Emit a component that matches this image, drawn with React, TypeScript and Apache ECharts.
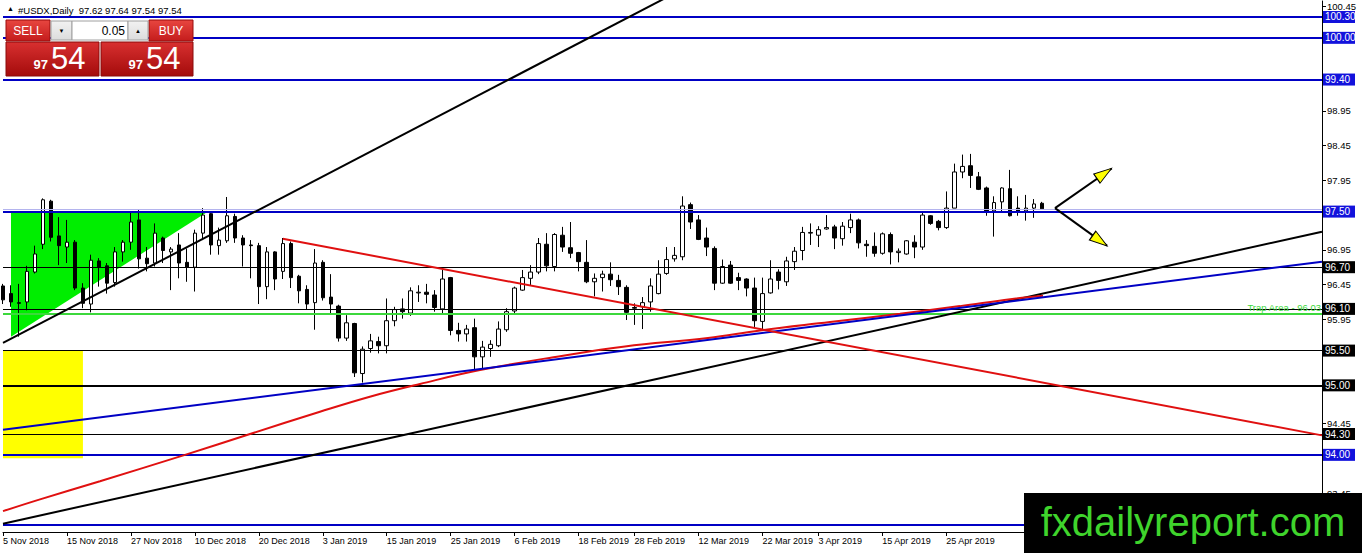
import React, { useEffect, useRef } from "react";
import * as echarts from "echarts";

// ---------- axis / categories ----------
const SLOT_COUNT = 166; // bar slots across the plot (incl. empty right shift)
const TICK_LABELS = [
  "5 Nov 2018", "15 Nov 2018", "27 Nov 2018", "10 Dec 2018", "20 Dec 2018",
  "3 Jan 2019", "15 Jan 2019", "25 Jan 2019", "6 Feb 2019", "18 Feb 2019",
  "28 Feb 2019", "12 Mar 2019", "22 Mar 2019", "3 Apr 2019", "15 Apr 2019", "25 Apr 2019",
];
const TICK_BARS = [0, 8, 16, 24, 32, 40, 48, 56, 64, 72, 79, 87, 95, 102, 110, 118];
const Y_TICKS = [93.45, 93.95, 94.45, 94.95, 95.45, 95.95, 96.45, 96.95, 97.45, 97.95, 98.45, 98.95, 99.45, 99.95, 100.45];
// tick labels that are not hidden behind a price box
const Y_LABELS = [93.45, 94.45, 95.95, 96.45, 96.95, 97.95, 98.45, 98.95, 100.45];
const Y_MIN = 92.89;
const Y_MAX = 100.53;

// ---------- daily candles ----------
const OPEN = [
  96.43, 96.32, 96.19, 96.20, 96.63, 97.03, 97.65, 97.15, 96.99, 97.06,
  96.40, 96.17, 96.79, 96.72, 96.48, 96.92, 97.06, 97.38, 96.83, 96.76,
  97.12, 96.92, 97.02, 96.77, 96.70, 97.19, 97.47, 97.01, 97.08, 97.43,
  97.12, 97.02, 97.01, 96.42, 96.92, 96.64, 97.04, 96.57, 96.38, 96.19,
  96.77, 96.27, 96.14, 95.68, 95.89, 95.17, 95.53, 95.63, 95.57, 95.93,
  96.10, 96.04, 96.33, 96.34, 96.30, 96.10, 96.55, 95.79, 95.74, 95.83,
  95.41, 95.53, 95.57, 95.80, 96.07, 96.37, 96.54, 96.63, 97.03, 96.71,
  97.16, 96.98, 96.91, 96.77, 96.49, 96.55, 96.60, 96.51, 96.41, 96.12,
  96.13, 96.20, 96.32, 96.61, 96.82, 96.85, 97.60, 97.38, 97.12, 96.97,
  96.47, 96.73, 96.55, 96.53, 96.40, 95.92, 96.33, 96.63, 96.49, 96.78,
  96.94, 97.19, 97.16, 97.25, 97.28, 97.11, 97.27, 97.38, 97.03, 97.00,
  96.90, 97.17, 96.91, 96.89, 97.06, 96.99, 97.44, 97.36, 97.27, 97.55,
  98.07, 98.16, 98.00, 97.84, 97.51, 97.64, 97.83, 97.55, 97.51, 97.55,
  97.62,
];
const HIGH = [
  96.46, 96.44, 96.46, 96.72, 97.01, 97.69, 97.67, 97.42, 97.38, 97.09,
  96.47, 96.88, 96.83, 96.76, 96.99, 97.09, 97.50, 97.53, 96.99, 97.33,
  97.14, 96.99, 97.19, 96.97, 97.24, 97.55, 97.50, 97.27, 97.71, 97.47,
  97.16, 97.09, 97.05, 96.99, 96.93, 97.12, 97.07, 96.59, 96.44, 96.96,
  96.80, 96.60, 96.16, 96.01, 95.90, 95.56, 95.74, 95.70, 96.25, 96.13,
  96.25, 96.41, 96.44, 96.46, 96.37, 96.66, 96.56, 95.90, 95.87, 95.96,
  95.64, 95.65, 95.92, 96.11, 96.42, 96.66, 96.73, 97.12, 97.19, 97.19,
  97.28, 97.35, 96.92, 97.09, 96.61, 96.65, 96.77, 96.59, 96.44, 96.18,
  96.27, 96.54, 96.80, 96.99, 96.99, 97.72, 97.63, 97.45, 97.27, 97.00,
  96.81, 96.79, 96.62, 96.54, 96.55, 96.55, 96.80, 96.67, 96.85, 96.99,
  97.28, 97.33, 97.29, 97.45, 97.31, 97.35, 97.47, 97.40, 97.09, 97.20,
  97.20, 97.20, 96.97, 97.09, 97.16, 97.48, 97.45, 97.38, 97.79, 98.19,
  98.32, 98.33, 98.07, 97.86, 97.72, 97.85, 98.10, 97.72, 97.74, 97.68,
  97.64,
];
const LOW = [
  96.17, 96.13, 95.70, 96.08, 96.61, 96.96, 97.07, 96.73, 96.76, 96.37,
  96.11, 96.05, 96.42, 96.32, 96.42, 96.78, 96.95, 96.68, 96.64, 96.71,
  96.76, 96.37, 96.54, 96.49, 96.35, 97.09, 96.88, 96.88, 97.05, 97.05,
  96.71, 96.54, 96.17, 96.24, 96.37, 96.53, 96.40, 96.18, 96.09, 95.80,
  96.22, 96.04, 95.63, 95.64, 95.12, 95.04, 95.47, 95.46, 95.46, 95.85,
  95.96, 96.00, 96.20, 96.18, 96.06, 96.04, 95.72, 95.63, 95.63, 95.23,
  95.23, 95.41, 95.55, 95.77, 96.04, 96.36, 96.44, 96.60, 96.64, 96.64,
  96.92, 96.83, 96.64, 96.47, 96.28, 96.35, 96.43, 96.30, 95.94, 95.87,
  95.81, 96.06, 96.31, 96.59, 96.78, 96.80, 97.25, 97.09, 96.86, 96.37,
  96.46, 96.46, 96.37, 96.28, 95.84, 95.80, 96.32, 96.38, 96.43, 96.66,
  96.80, 97.02, 96.99, 97.24, 96.96, 97.01, 97.19, 96.97, 96.85, 96.85,
  96.88, 96.74, 96.77, 96.88, 96.83, 96.95, 97.31, 97.23, 97.25, 97.55,
  97.98, 97.84, 97.81, 97.44, 97.14, 97.50, 97.43, 97.44, 97.37, 97.41,
  97.54,
];
const CLOSE = [
  96.23, 96.20, 96.18, 96.64, 96.89, 97.67, 97.13, 97.01, 97.06, 96.40,
  96.18, 96.80, 96.70, 96.47, 96.92, 97.06, 97.35, 96.82, 96.75, 97.19,
  96.94, 96.96, 96.76, 96.70, 97.19, 97.45, 97.02, 97.09, 97.44, 97.12,
  97.02, 97.01, 96.42, 96.92, 96.53, 97.04, 96.55, 96.36, 96.17, 96.76,
  96.26, 96.17, 95.68, 95.90, 95.18, 95.52, 95.64, 95.57, 95.93, 96.09,
  96.06, 96.36, 96.34, 96.31, 96.12, 96.53, 95.79, 95.74, 95.81, 95.41,
  95.55, 95.59, 95.81, 96.06, 96.40, 96.55, 96.63, 97.04, 96.72, 97.17,
  96.99, 96.90, 96.78, 96.49, 96.54, 96.60, 96.52, 96.42, 96.05, 96.11,
  96.19, 96.43, 96.60, 96.81, 96.87, 97.58, 97.35, 97.10, 96.99, 96.47,
  96.71, 96.47, 96.51, 96.40, 95.93, 96.32, 96.53, 96.51, 96.79, 96.93,
  97.20, 97.20, 97.24, 97.27, 97.12, 97.29, 97.38, 97.05, 97.01, 96.90,
  97.18, 96.92, 96.93, 97.08, 96.99, 97.45, 97.33, 97.27, 97.55, 98.07,
  98.15, 98.02, 97.82, 97.51, 97.63, 97.84, 97.44, 97.50, 97.55, 97.61,
  97.54,
];

// ---------- horizontal levels ----------
const BLUE_LEVELS = [100.3, 100.0, 99.4, 97.5, 94.0, 93.0];
const BLACK_LEVELS = [96.7, 96.1, 95.5, 94.3];
const THICK_BLACK_LEVELS = [95.0];
const TRAP_LEVEL = 96.03;
const BID_LEVEL = 97.54;

// ---------- drawn objects ([bar slot, price]) ----------
const UPPER_BLACK_TREND = [[0, 95.61], [90, 101.0]];
const LOWER_BLACK_TREND = [[0, 93.01], [165, 97.21]];
const BLUE_TREND = [[0, 94.36], [165, 96.78]];
const RED_TREND = [[35, 97.11], [165, 94.28]];
const RED_MA = [
  [0, 93.19], [4.63, 93.36], [12.13, 93.62], [22.77, 94.0], [30.9, 94.3],
  [39.65, 94.62], [46.0, 94.84], [52.16, 95.02], [59.67, 95.22], [69.68, 95.42],
  [77.81, 95.56], [88.19, 95.68], [94.7, 95.79], [103.45, 95.91], [112.2, 96.03],
  [119.7, 96.14], [126.0, 96.24], [130.1, 96.29],
];
const GREEN_TRIANGLE = [[1.0, 97.49], [25.5, 97.49], [1.0, 95.7]];
const YELLOW_BOX = [[0, 95.5], [10.0, 93.95]];
const ARROW_UP = [[131.6, 97.55], [138.7, 98.12]];
const ARROW_DOWN = [[131.6, 97.55], [138.1, 97.01]];
const ARROW_UP_HEAD = [[137.77, 98.05]];
const ARROW_DOWN_HEAD = [[137.22, 97.08]];

const FONT = "Liberation Sans, Arial, sans-serif";
const BLUE = "#0000c4";
const BOX_BLUE = "#1212dc";
const GREEN = "#3cd83c";
const RED = "#e01010";

function boxLabel(bg: string) {
  return {
    show: true,
    position: "end",
    distance: 1,
    formatter: (p: any) => Number(p.value).toFixed(2),
    backgroundColor: bg,
    color: "#ffffff",
    fontSize: 10,
    fontFamily: FONT,
    lineHeight: 11,
    padding: [1, 2, 0, 2],
    width: 28,
    align: "left",
  };
}

function trendLine(data: number[][], color: string, width: number, z = 6, smooth: any = false) {
  return {
    type: "line",
    xAxisIndex: 1,
    yAxisIndex: 0,
    data,
    symbol: "none",
    showSymbol: false,
    silent: true,
    smooth,
    z,
    clip: true,
    lineStyle: { color, width, type: "solid" },
  };
}

export default function App() {
  const ref = useRef<HTMLDivElement>(null);

  useEffect(() => {
    if (!ref.current) return;
    const chart = echarts.init(ref.current, null, { renderer: "svg" });

    const categories = Array.from({ length: SLOT_COUNT }, (_, i) => String(i));
    const candles = OPEN.map((o, i) => [o, CLOSE[i], LOW[i], HIGH[i]]);
    const isTick = (i: number) => TICK_BARS.indexOf(i) >= 0;

    const levelData: any[] = [];
    BLUE_LEVELS.forEach((v) =>
      levelData.push({
        yAxis: v,
        lineStyle: { color: BLUE, width: 2, type: "solid" },
        label: v === 93.0 ? { show: false } : boxLabel(BOX_BLUE),
      })
    );
    BLACK_LEVELS.forEach((v) =>
      levelData.push({
        yAxis: v,
        lineStyle: { color: "#000", width: 1, type: "solid" },
        label: boxLabel("#000"),
      })
    );
    THICK_BLACK_LEVELS.forEach((v) =>
      levelData.push({
        yAxis: v,
        lineStyle: { color: "#000", width: 2, type: "solid" },
        label: boxLabel("#000"),
      })
    );
    levelData.push({
      yAxis: TRAP_LEVEL,
      lineStyle: { color: GREEN, width: 2, type: "solid" },
      label: {
        show: true,
        position: "insideEndTop",
        distance: 1,
        formatter: "Trap Area - " + TRAP_LEVEL.toFixed(2),
        color: GREEN,
        fontSize: 9.5,
        fontFamily: FONT,
      },
    });
    levelData.push({
      yAxis: BID_LEVEL,
      lineStyle: { color: "#b4b4ee", width: 1, type: "solid" },
      label: { show: false },
    });

    const grad = (a: string, b: string) =>
      new echarts.graphic.LinearGradient(0, 0, 0, 1, [
        { offset: 0, color: a },
        { offset: 1, color: b },
      ]);

    const option: any = {
      animation: false,
      backgroundColor: "#ffffff",
      textStyle: { fontFamily: FONT },
      grid: { left: 3, right: 40, top: 1, bottom: 21, containLabel: false },
      xAxis: [
        {
          type: "category",
          data: categories,
          boundaryGap: false,
          position: "bottom",
          axisLine: { show: true, onZero: false, lineStyle: { color: "#000", width: 1 } },
          axisTick: {
            show: true,
            interval: (i: number) => isTick(i),
            length: 4,
            lineStyle: { color: "#000" },
          },
          axisLabel: {
            show: true,
            interval: (i: number) => isTick(i),
            formatter: (_v: string, i: number) => {
              const k = TICK_BARS.indexOf(i);
              return k >= 0 ? TICK_LABELS[k] : "";
            },
            align: "left",
            margin: 4,
            color: "#000",
            fontSize: 9,
            fontFamily: FONT,
          },
          splitLine: { show: false },
        },
        {
          type: "value",
          min: 0,
          max: SLOT_COUNT - 1,
          show: false,
          splitLine: { show: false },
        },
      ],
      yAxis: [
        {
          type: "value",
          position: "right",
          min: Y_MIN,
          max: Y_MAX,
          axisLine: { show: true, onZero: false, lineStyle: { color: "#000", width: 1 } },
          axisTick: { show: true, length: 4, customValues: Y_TICKS, lineStyle: { color: "#000" } },
          axisLabel: {
            show: true,
            customValues: Y_LABELS,
            formatter: (v: number) => v.toFixed(2),
            margin: 5,
            color: "#000",
            fontSize: 9.5,
            fontFamily: FONT,
          },
          splitLine: { show: false },
        },
      ],
      series: [
        {
          type: "custom",
          xAxisIndex: 1,
          yAxisIndex: 0,
          z: 1,
          silent: true,
          data: [[0, 95]],
          renderItem: (_params: any, api: any) => {
            const p1 = api.coord(YELLOW_BOX[0]);
            const p2 = api.coord(YELLOW_BOX[1]);
            const tri = GREEN_TRIANGLE.map((p) => api.coord(p));
            return {
              type: "group",
              children: [
                {
                  type: "rect",
                  shape: { x: p1[0], y: p1[1], width: p2[0] - p1[0], height: p2[1] - p1[1] },
                  style: { fill: "#ffff00" },
                },
                {
                  type: "polygon",
                  shape: { points: tri },
                  style: { fill: "#00ee00" },
                },
              ],
            };
          },
        },
        {
          type: "candlestick",
          xAxisIndex: 0,
          yAxisIndex: 0,
          data: candles,
          barWidth: 4,
          z: 3,
          itemStyle: {
            color: "#ffffff",
            color0: "#000000",
            borderColor: "#000000",
            borderColor0: "#000000",
            borderWidth: 1,
          },
          markLine: {
            silent: true,
            symbol: ["none", "none"],
            animation: false,
            data: levelData,
          },
        },
        trendLine(UPPER_BLACK_TREND, "#000", 2),
        trendLine(LOWER_BLACK_TREND, "#000", 2),
        trendLine(RED_MA, RED, 2, 6, 0.4),
        trendLine(BLUE_TREND, BLUE, 2, 6),
        trendLine(RED_TREND, RED, 2),
        trendLine(ARROW_UP, "#000", 2, 8),
        trendLine(ARROW_DOWN, "#000", 2, 8),
        {
          type: "scatter",
          xAxisIndex: 1,
          yAxisIndex: 0,
          data: ARROW_UP_HEAD,
          symbol: "triangle",
          symbolSize: [11, 18],
          symbolRotate: -55,
          z: 9,
          silent: true,
          itemStyle: { color: "#ffff00", borderColor: "#000", borderWidth: 1, opacity: 1 },
        },
        {
          type: "scatter",
          xAxisIndex: 1,
          yAxisIndex: 0,
          data: ARROW_DOWN_HEAD,
          symbol: "triangle",
          symbolSize: [11, 18],
          symbolRotate: -125.6,
          z: 9,
          silent: true,
          itemStyle: { color: "#ffff00", borderColor: "#000", borderWidth: 1, opacity: 1 },
        },
      ],
      graphic: [
        // title
        {
          type: "text",
          left: 7,
          top: 5,
          z: 100,
          style: { text: "▲", fill: "#000", font: "7px " + FONT },
        },
        {
          type: "text",
          x: 18,
          y: 10,
          z: 100,
          style: {
            text: "#USDX,Daily  97.62 97.64 97.54 97.54",
            fill: "#000",
            font: "9.5px " + FONT,
            verticalAlign: "middle",
          },
        },
        // one-click trading panel
        {
          type: "rect",
          z: 100,
          shape: { x: 6, y: 20, width: 44, height: 21 },
          style: { fill: grad("#e84640", "#c41c1c"), stroke: "#9a0c0c", lineWidth: 1 },
        },
        {
          type: "text",
          z: 101,
          x: 28,
          y: 31,
          style: { text: "SELL", fill: "#fff", font: "12px " + FONT, align: "center", verticalAlign: "middle" },
        },
        {
          type: "rect",
          z: 100,
          shape: { x: 149, y: 20, width: 44, height: 21 },
          style: { fill: grad("#e84640", "#c41c1c"), stroke: "#9a0c0c", lineWidth: 1 },
        },
        {
          type: "text",
          z: 101,
          x: 171,
          y: 31,
          style: { text: "BUY", fill: "#fff", font: "12px " + FONT, align: "center", verticalAlign: "middle" },
        },
        {
          type: "rect",
          z: 100,
          shape: { x: 51, y: 21, width: 21, height: 19 },
          style: { fill: grad("#f2f2f2", "#dcdcdc"), stroke: "#a0a0a0", lineWidth: 1 },
        },
        {
          type: "text",
          z: 101,
          x: 61.5,
          y: 31,
          style: { text: "▼", fill: "#000", font: "6px " + FONT, align: "center", verticalAlign: "middle" },
        },
        {
          type: "rect",
          z: 100,
          shape: { x: 72, y: 21, width: 56, height: 19 },
          style: { fill: "#ffffff", stroke: "#a0a0a0", lineWidth: 1 },
        },
        {
          type: "text",
          z: 101,
          x: 125,
          y: 31,
          style: { text: "0.05", fill: "#000", font: "12px " + FONT, align: "right", verticalAlign: "middle" },
        },
        {
          type: "rect",
          z: 100,
          shape: { x: 128, y: 21, width: 20, height: 19 },
          style: { fill: grad("#f2f2f2", "#dcdcdc"), stroke: "#a0a0a0", lineWidth: 1 },
        },
        {
          type: "text",
          z: 101,
          x: 138,
          y: 31,
          style: { text: "▲", fill: "#000", font: "6px " + FONT, align: "center", verticalAlign: "middle" },
        },
        {
          type: "rect",
          z: 100,
          shape: { x: 6, y: 42, width: 93, height: 34 },
          style: { fill: grad("#d83030", "#a40b0b"), stroke: "#8a0a0a", lineWidth: 1 },
        },
        {
          type: "rect",
          z: 100,
          shape: { x: 101, y: 42, width: 92, height: 34 },
          style: { fill: grad("#d83030", "#a40b0b"), stroke: "#8a0a0a", lineWidth: 1 },
        },
        {
          type: "text",
          z: 101,
          x: 48,
          y: 71,
          style: { text: "97", fill: "#fff", font: "bold 13px " + FONT, align: "right", verticalAlign: "bottom" },
        },
        {
          type: "text",
          z: 101,
          x: 51,
          y: 74,
          style: { text: "54", fill: "#fff", font: "31px " + FONT, align: "left", verticalAlign: "bottom" },
        },
        {
          type: "text",
          z: 101,
          x: 143,
          y: 71,
          style: { text: "97", fill: "#fff", font: "bold 13px " + FONT, align: "right", verticalAlign: "bottom" },
        },
        {
          type: "text",
          z: 101,
          x: 146,
          y: 74,
          style: { text: "54", fill: "#fff", font: "31px " + FONT, align: "left", verticalAlign: "bottom" },
        },
        // watermark
        {
          type: "rect",
          z: 200,
          shape: { x: 1024, y: 493, width: 338, height: 60 },
          style: { fill: "#000000" },
        },
        {
          type: "text",
          z: 201,
          x: 1193,
          y: 522,
          style: {
            text: "fxdailyreport.com",
            fill: "#3fd42c",
            font: "40px " + FONT,
            align: "center",
            verticalAlign: "middle",
          },
        },
      ],
    };

    chart.setOption(option);
    return () => chart.dispose();
  }, []);

  return (
    <div
      ref={ref}
      style={{ position: "absolute", left: 0, top: 0, width: 1362, height: 553, background: "#fff" }}
    />
  );
}
